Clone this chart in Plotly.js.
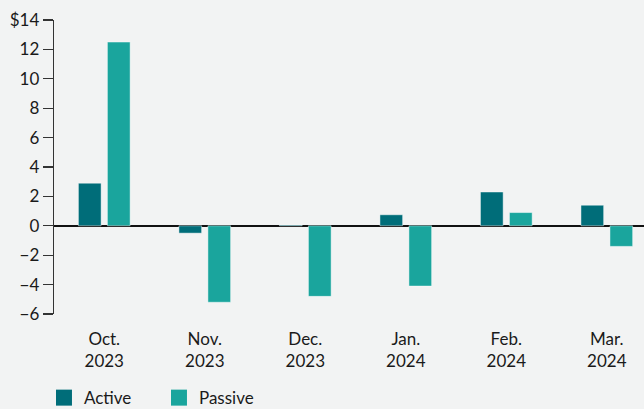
<!DOCTYPE html>
<html>
<head>
<meta charset="utf-8">
<script src="https://cdn.plot.ly/plotly-3.0.1.min.js"></script>
<style>
  html, body { margin: 0; padding: 0; background: #F2F3F3; overflow: hidden; }
  #chart { width: 644px; height: 425px; }
</style>
</head>
<body>
<div id="chart"></div>
<script>
const categories = ["Oct.<br>2023", "Nov.<br>2023", "Dec.<br>2023", "Jan.<br>2024", "Feb.<br>2024", "Mar.<br>2024"];
const activeValues = [2.9, -0.5, 0.05, 0.75, 2.3, 1.4];
const passiveValues = [12.5, -5.2, -4.8, -4.1, 0.9, -1.4];
const seriesNames = ["Active", "Passive"];
const yTickVals = [14, 12, 10, 8, 6, 4, 2, 0, -2, -4, -6];
const yTickText = ["$14", "12", "10", "8", "6", "4", "2", "0", "\u22122", "\u22124", "\u22126"];

const FONT = "Lato, 'Noto Sans', sans-serif";
const COLORS = ["#006D79", "#1AA59D"];
const barLine = { color: "rgba(255,255,255,0.45)", width: 1 };

const traces = [
  { type: "bar", name: seriesNames[0], x: categories, y: activeValues, legendgroup: "a", showlegend: false,
    marker: { color: COLORS[0], line: barLine }, hoverinfo: "none" },
  { type: "bar", name: seriesNames[1], x: categories, y: passiveValues, legendgroup: "p", showlegend: false,
    marker: { color: COLORS[1], line: barLine }, hoverinfo: "none" },
  // legend swatches (no data points drawn)
  { type: "scatter", mode: "markers", name: seriesNames[0], x: [null], y: [null], legendgroup: "a",
    marker: { symbol: "square", size: 16, color: COLORS[0] }, hoverinfo: "none" },
  { type: "scatter", mode: "markers", name: seriesNames[1], x: [null], y: [null], legendgroup: "p",
    marker: { symbol: "square", size: 16, color: COLORS[1] }, hoverinfo: "none" }
];

const layout = {
  width: 644, height: 425,
  paper_bgcolor: "#F2F3F3", plot_bgcolor: "#F2F3F3",
  margin: { l: 54, r: 0, t: 20, b: 111, pad: 0 },
  font: { family: FONT, size: 17, color: "#1a1a1a" },
  barmode: "group", bargap: 0.423, bargroupgap: 0.217,
  showlegend: true,
  legend: {
    orientation: "h", x: -0.017, xanchor: "left", y: -0.286, yanchor: "middle",
    font: { family: FONT, size: 17, color: "#1a1a1a" },
    bgcolor: "rgba(0,0,0,0)", traceorder: "normal",
    entrywidth: 70, entrywidthmode: "pixels"
  },
  xaxis: {
    type: "category", range: [-0.5, 5.37],
    showline: false, ticks: "", showgrid: false, zeroline: false,
    ticklabelstandoff: 13,
    tickfont: { family: FONT, size: 17, color: "#1a1a1a" }
  },
  yaxis: {
    range: [-6, 14], tickvals: yTickVals, ticktext: yTickText,
    showline: true, linecolor: "#333", linewidth: 1.3,
    ticks: "outside", ticklen: 10, tickcolor: "#333", tickwidth: 1.3,
    showgrid: false, zeroline: true, zerolinecolor: "#111", zerolinewidth: 2,
    tickfont: { family: FONT, size: 17, color: "#1a1a1a" }
  }
};

Plotly.newPlot("chart", traces, layout, { staticPlot: true, displayModeBar: false });
</script>
</body>
</html>
